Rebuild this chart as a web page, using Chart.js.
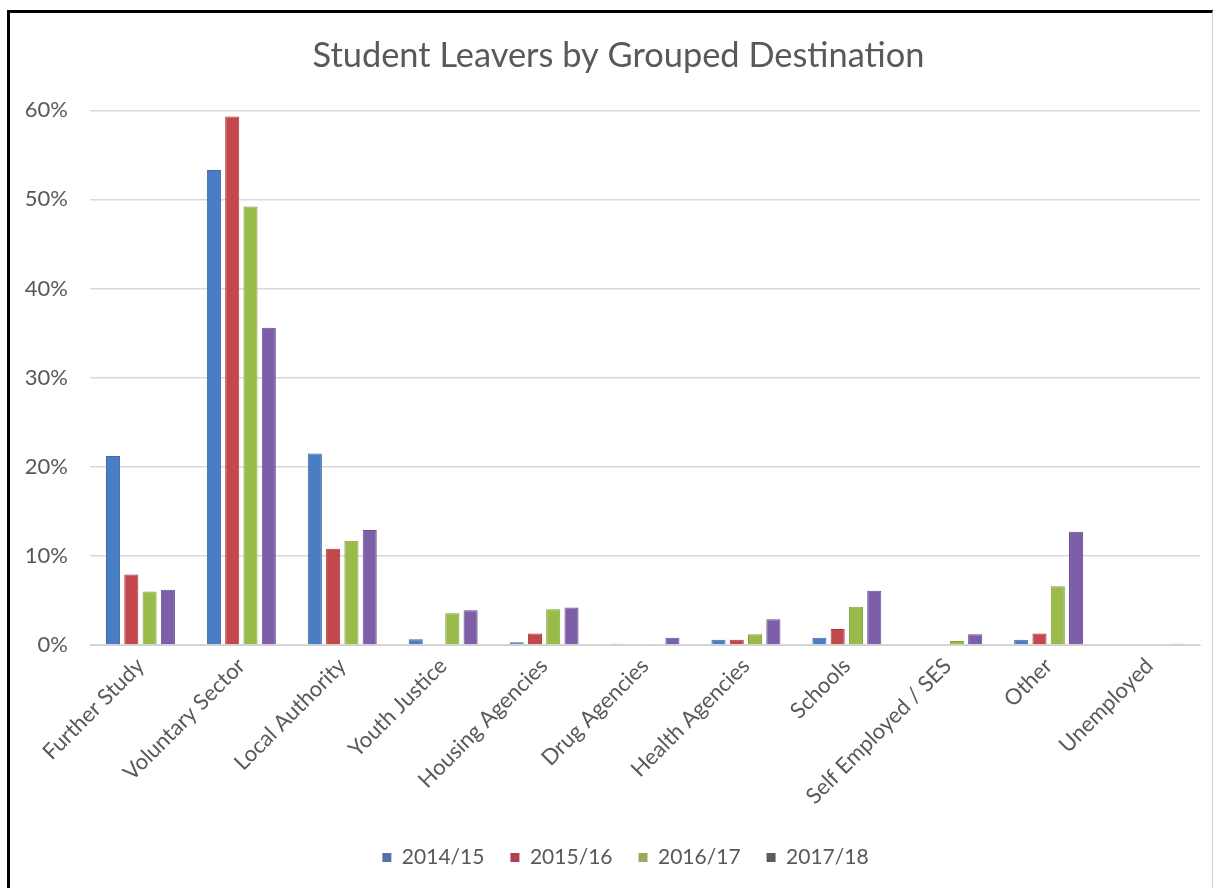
<!DOCTYPE html>
<html>
<head>
<meta charset="utf-8">
<script src="https://cdn.jsdelivr.net/npm/chart.js@4"></script>
<style>
  html, body { margin: 0; padding: 0; background: #fff; }
  body { width: 1216px; height: 888px; position: relative; overflow: hidden; }
  #frame {
    position: absolute; left: 7px; top: 10px; width: 1206px; height: 878px;
    border-left: 3px solid #000; border-top: 3px solid #000; border-right: 1px solid #d0d0d0;
    box-sizing: border-box;
  }
  #wrap { position: absolute; left: 11px; top: 13px; width: 1202px; height: 872px; }
</style>
</head>
<body>
<div id="frame"></div>
<div id="wrap"><canvas id="chart"></canvas></div>
<script>
const categories = ['Further Study', 'Voluntary Sector', 'Local Authority', 'Youth Justice', 'Housing Agencies',
  'Drug Agencies', 'Health Agencies', 'Schools', 'Self Employed / SES', 'Other', 'Unemployed'];
const seriesNames = ['2014/15', '2015/16', '2016/17', '2017/18'];
const values1415 = [21.2, 53.3, 21.5, 0.65, 0.3, 0.15, 0.6, 0.8, 0, 0.6, 0];
const values1516 = [7.9, 59.3, 10.8, 0, 1.3, 0, 0.6, 1.8, 0, 1.3, 0];
const values1617 = [6.0, 49.2, 11.7, 3.55, 4.0, 0.05, 1.2, 4.3, 0.45, 6.6, 0];
const values1718 = [6.2, 35.6, 12.9, 3.9, 4.2, 0.8, 2.9, 6.1, 1.2, 12.7, 0.15];
const yTicks = [0, 10, 20, 30, 40, 50, 60];

const barColors = ['#4a7ec4', '#c4484b', '#98bb4a', '#7d5ea8'];
const edgeColors = ['#3f6aa6', '#a83b3e', '#80a03c', '#67508c'];
const legendColors = ['#5470a8', '#b0414f', '#98ab58', '#5c5c5c'];
const allValues = [values1415, values1516, values1617, values1718];

// the original centres title and legend on the plot, not the whole canvas
const centreShift = {
  id: 'centreShift',
  afterLayout: chart => {
    chart.legend.left += 40;
    chart.titleBlock.left += 26;
  }
};

new Chart(document.getElementById('chart'), {
  type: 'bar',
  data: {
    labels: categories,
    datasets: seriesNames.map((name, i) => ({
      label: name,
      data: allValues[i],
      backgroundColor: barColors[i],
      borderColor: edgeColors[i],
      borderWidth: 1,
      categoryPercentage: 0.725,
      barPercentage: 0.77
    }))
  },
  plugins: [centreShift],
  options: {
    responsive: true,
    maintainAspectRatio: false,
    animation: false,
    layout: { padding: { left: 0, right: 13, top: 0, bottom: 7 } },
    plugins: {
      title: {
        display: true,
        text: 'Student Leavers by Grouped Destination',
        color: '#595959',
        font: { family: 'Lato', size: 34.4, weight: 'normal' },
        padding: { top: 22, bottom: 34 }
      },
      legend: {
        position: 'bottom',
        labels: {
          color: '#595959',
          font: { family: 'Lato', size: 21 },
          boxWidth: 9,
          boxHeight: 9,
          padding: 26,
          generateLabels: chart => chart.data.datasets.map((ds, i) => ({
            text: ds.label,
            fillStyle: legendColors[i],
            strokeStyle: legendColors[i],
            lineWidth: 0,
            datasetIndex: i,
            fontColor: '#595959'
          }))
        }
      },
      tooltip: { enabled: false }
    },
    scales: {
      x: {
        grid: { display: false },
        border: { color: '#d0d0d0', width: 1 },
        ticks: {
          color: '#595959',
          font: { family: 'Lato', size: 22 },
          minRotation: 45,
          maxRotation: 45,
          autoSkip: false,
          padding: 0
        },
        afterFit: scale => { scale.height = 176; }
      },
      y: {
        min: 0,
        max: 60,
        afterBuildTicks: scale => { scale.ticks = yTicks.map(v => ({ value: v })); },
        grid: { color: '#d9d9d9', lineWidth: 1.5, drawTicks: false },
        border: { display: false },
        ticks: {
          color: '#595959',
          font: { family: 'Lato', size: 22 },
          padding: 22,
          callback: v => v + '%'
        },
        afterFit: scale => { scale.width = 79; }
      }
    }
  }
});
</script>
</body>
</html>
